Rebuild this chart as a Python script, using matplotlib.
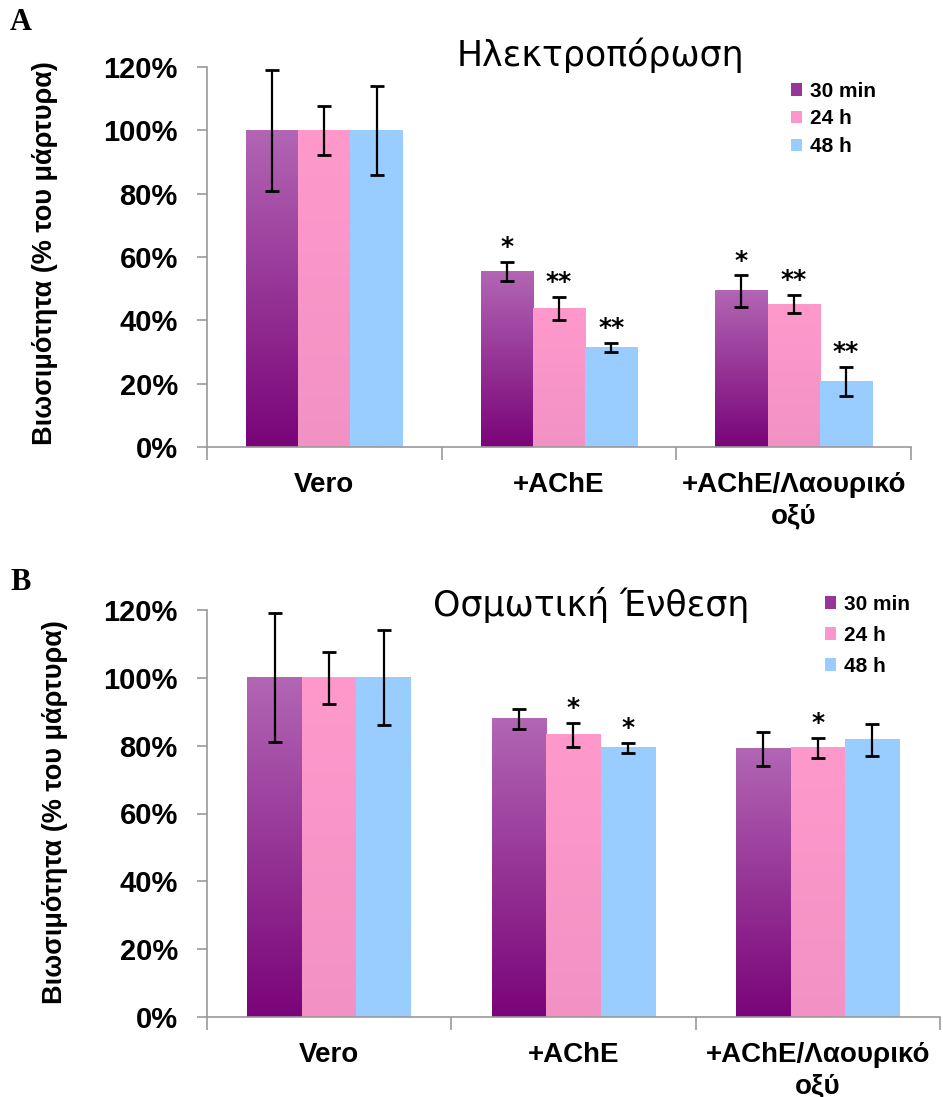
import numpy as np
import matplotlib
matplotlib.use('Agg')
import matplotlib.pyplot as plt
from matplotlib.colors import LinearSegmentedColormap
from matplotlib.patches import Patch

groups = ['Vero', '+AChE', '+AChE/Λαουρικό\nοξύ']
series = ['30 min', '24 h', '48 h']

# panel A - electroporation
a_30 = [100, 55.5, 49.3]
a_30_err = [19, 3.0, 5.0]
a_24 = [100, 43.8, 45.1]
a_24_err = [7.7, 3.6, 2.9]
a_48 = [100, 31.5, 20.8]
a_48_err = [14, 1.5, 4.6]
a_stars = [['', '*', '*'], ['', '**', '**'], ['', '**', '**']]

# panel B - osmotic insertion
b_30 = [100, 87.9, 79.1]
b_30_err = [19, 3.0, 5.0]
b_24 = [100, 83.2, 79.4]
b_24_err = [7.7, 3.6, 3.0]
b_48 = [100, 79.4, 81.7]
b_48_err = [14, 1.5, 4.6]
b_stars = [['', '', ''], ['', '*', '*'], ['', '*', '']]

cmaps = [LinearSegmentedColormap.from_list('p', ['#7a0479', '#b266b4']),
         LinearSegmentedColormap.from_list('k', ['#f292c4', '#ff99cc']),
         LinearSegmentedColormap.from_list('b', ['#99ccff', '#99ccff'])]
legend_cols = ['#96359a', '#fc97c9', '#99ccff']
GREY = '#9a9a9a'

fig = plt.figure(figsize=(9.43, 10.97), dpi=100)


def panel(rect, vals, errs, stars, title, title_xy, leg_xy, ylab_xy, leg_sp):
    ax = fig.add_axes(rect)
    x = np.arange(len(groups))
    w = 0.223
    grad = np.linspace(0, 1, 256).reshape(-1, 1)
    for i in range(3):
        bars = ax.bar(x + (i - 1) * w, vals[i], w, color='none', zorder=2)
        for b in bars:
            x0 = b.get_x()
            ax.imshow(grad, cmap=cmaps[i], origin='lower', aspect='auto',
                      extent=(x0, x0 + b.get_width(), 0, b.get_height()), zorder=1)
        ax.errorbar(x + (i - 1) * w, vals[i], yerr=errs[i], fmt='none', ecolor='black',
                    elinewidth=1.6, capsize=5, capthick=2, zorder=3)
        for j in range(3):
            if stars[i][j]:
                ax.text(x[j] + (i - 1) * w, vals[i][j] + errs[i][j] + 0.8, stars[i][j],
                        ha='center', va='bottom', fontsize=18, fontweight='bold',
                        family='DejaVu Sans')

    ax.set_xlim(-0.5, 2.5)
    ax.set_ylim(0, 120)
    for s in ['top', 'right']:
        ax.spines[s].set_visible(False)
    for s in ['left', 'bottom']:
        ax.spines[s].set_color(GREY)
        ax.spines[s].set_linewidth(1.2)
    ax.set_yticks(np.arange(0, 121, 20))
    ax.set_yticklabels(['%d%%' % v for v in range(0, 121, 20)])
    ax.set_xticks([-0.5, 0.5, 1.5, 2.5])
    ax.set_xticklabels([])
    ax.set_xticks(x, minor=True)
    ax.set_xticklabels(groups, minor=True)
    ax.tick_params(axis='x', which='major', length=9, color=GREY, width=1.2)
    ax.tick_params(axis='x', which='minor', length=0, pad=18)
    ax.tick_params(axis='y', length=7, color=GREY, width=1.2, pad=14)
    for t in ax.get_yticklabels():
        t.set_fontsize(21)
        t.set_fontweight('bold')
        t.set_family('Liberation Sans')
    for t in ax.get_xticklabels(minor=True):
        t.set_fontsize(20)
        t.set_fontweight('bold')
        t.set_family('Liberation Sans')
        t.set_linespacing(1.25)
    fig.text(ylab_xy[0], ylab_xy[1], 'Βιωσιμότητα (% του μάρτυρα)', rotation=90,
             ha='center', va='center', fontsize=19.5, fontweight='bold',
             family='Liberation Sans')
    fig.text(title_xy[0], title_xy[1], title, ha='center', va='center', fontsize=25,
             family='DejaVu Sans')
    handles = [Patch(facecolor=c, edgecolor='none') for c in legend_cols]
    fig.legend(handles, series, loc='upper left', bbox_to_anchor=leg_xy, frameon=False,
               handlelength=0.55, handleheight=0.55, handletextpad=0.35,
               labelspacing=leg_sp, prop={'family': 'Liberation Sans', 'weight': 'bold',
                                          'size': 15})
    return ax


panel([207 / 943, 1 - 447 / 1097, 704 / 943, 380 / 1097],
      [a_30, a_24, a_48], [a_30_err, a_24_err, a_48_err], a_stars,
      'Ηλεκτροπόρωση', (600 / 943, 1 - 55 / 1097), (772 / 943, 1 - 63 / 1097),
      (45 / 943, 1 - 253 / 1097), 0.42)
panel([207 / 943, 1 - 1017 / 1097, 733 / 943, 407 / 1097],
      [b_30, b_24, b_48], [b_30_err, b_24_err, b_48_err], b_stars,
      'Οσμωτική Ένθεση', (591 / 943, 1 - 605 / 1097), (806 / 943, 1 - 576 / 1097),
      (55 / 943, 1 - 812 / 1097), 0.58)

fig.text(10 / 943, 1 - 22 / 1097, 'A', fontsize=22, fontweight='bold',
         family='Liberation Serif', va='center')
fig.text(10 / 943, 1 - 582 / 1097, 'B', fontsize=22, fontweight='bold',
         family='Liberation Serif', va='center')

fig.savefig('out.png', dpi=100)
